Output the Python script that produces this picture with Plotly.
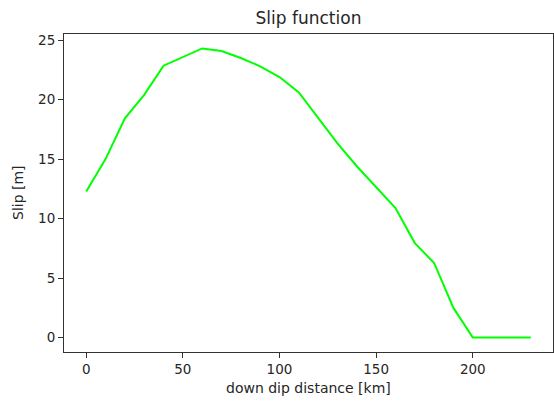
import plotly.graph_objects as go

distance_km = [0, 10, 20, 30, 40, 50, 60, 70, 80, 90, 100, 110, 120, 130, 140, 150,
               160, 170, 180, 190, 200, 210, 220, 230]
slip_m = [12.27, 15.0, 18.43, 20.4, 22.85, 23.6, 24.3, 24.08, 23.5, 22.8, 21.9, 20.6,
          18.45, 16.33, 14.4, 12.67, 10.88, 7.94, 6.27, 2.49, 0.0, 0.0, 0.0, 0.0]
x_ticks = [0, 50, 100, 150, 200]
y_ticks = [0, 5, 10, 15, 20, 25]

fig = go.Figure(go.Scatter(x=distance_km, y=slip_m, mode="lines",
                           line=dict(color="#00ff00", width=2), showlegend=False))

font_family = "DejaVu Sans"
txt_color = "#262626"
axis_common = dict(showgrid=False, zeroline=False, showline=True, linecolor="#333333",
                   linewidth=1, mirror=True, ticks="outside", ticklen=5, tickwidth=1,
                   tickcolor="#333333", automargin=False,
                   tickfont=dict(family=font_family, size=13.5, color=txt_color))

x_min, x_max = min(distance_km), max(distance_km)
y_min, y_max = min(slip_m), max(slip_m)
xpad = (x_max - x_min) * 0.05
ypad = (y_max - y_min) * 0.05

W, H = 554, 401
L, R, T, B = 64, 1, 34, 49
pw, ph = W - L - R, H - T - B

fig.update_layout(
    width=W, height=H,
    margin=dict(l=L, r=R, t=T, b=B),
    paper_bgcolor="white", plot_bgcolor="white",
    title=dict(text="Slip function", x=0.5, xref="paper", y=1 - 18 / H, yref="container",
               xanchor="center", yanchor="middle",
               font=dict(family=font_family, size=17, color=txt_color)),
    xaxis=dict(range=[x_min - xpad, x_max + xpad], tickvals=x_ticks, **axis_common),
    yaxis=dict(range=[y_min - ypad, y_max + ypad], tickvals=y_ticks, **axis_common),
    annotations=[
        dict(text="down dip distance [km]", xref="paper", yref="paper",
             x=0.5, y=-(388 - (T + ph)) / ph, xanchor="center", yanchor="middle",
             showarrow=False, font=dict(family=font_family, size=14, color=txt_color)),
        dict(text="Slip [m]", xref="paper", yref="paper", textangle=-90,
             x=-(L - 18) / pw, y=0.5, xanchor="center", yanchor="middle",
             showarrow=False, font=dict(family=font_family, size=14, color=txt_color)),
    ],
)

fig.write_html("out.html", config={"displayModeBar": False},
               post_script="document.body.style.margin='0';document.body.style.overflow='hidden';")
